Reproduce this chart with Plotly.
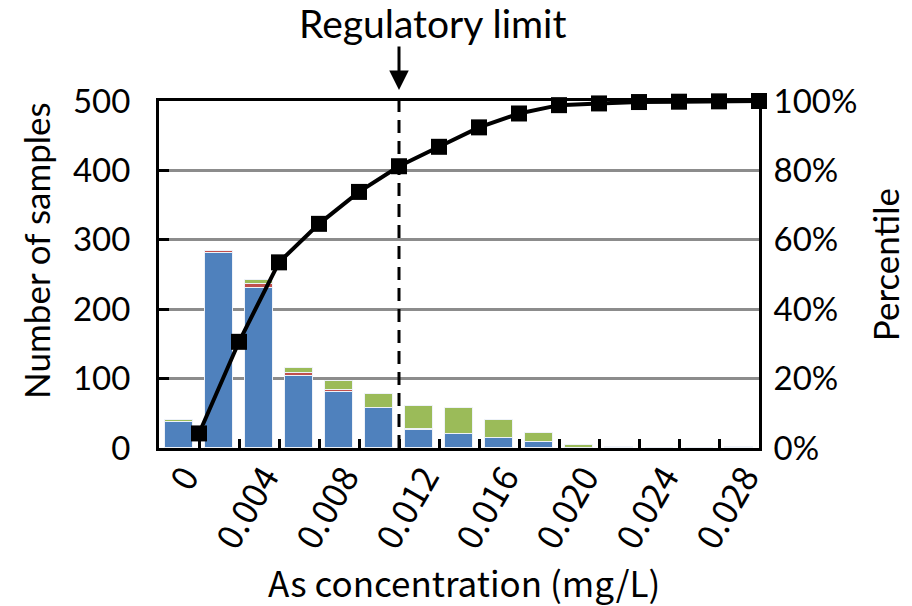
import plotly.graph_objects as go

# ---- data ----
conc_bins = [0.000, 0.002, 0.004, 0.006, 0.008, 0.010, 0.012, 0.014,
             0.016, 0.018, 0.020, 0.022, 0.024, 0.026, 0.028]
blue_counts = [38, 281, 230, 104, 80, 57, 26, 20, 15, 8, 0, 0, 0, 0, 1]
red_counts = [0, 3, 7, 4, 4, 0, 2, 0, 0, 0, 0, 0, 0, 0, 0]
green_counts = [2, 0, 5, 7, 12, 21, 32, 38, 26, 14, 5, 2, 0, 0, 0]

pct_x = [0.001, 0.003, 0.005, 0.007, 0.009, 0.011, 0.013, 0.015,
         0.017, 0.019, 0.021, 0.023, 0.025, 0.027, 0.029]
percentile = [4.2, 30.6, 53.5, 64.6, 73.8, 81.2, 86.8, 92.4,
              96.4, 98.8, 99.3, 99.7, 99.8, 99.9, 100]

x_tickvals = [0.000, 0.004, 0.008, 0.012, 0.016, 0.020, 0.024, 0.028]
x_ticktext = ["0", "0.004", "0.008", "0.012", "0.016", "0.020", "0.024", "0.028"]
regulatory_limit = 0.011

LAT = "Lato, 'Open Sans', sans-serif"
JP = "'Noto Sans CJK JP', sans-serif"

fig = go.Figure()
for vals, col in [(blue_counts, "#4F81BD"), (red_counts, "#C0504D"), (green_counts, "#9BBB59")]:
    fig.add_trace(go.Bar(x=conc_bins, y=vals, width=0.0014,
                         marker=dict(color=col, line=dict(color="#EEF2F8", width=1)),
                         xaxis="x", yaxis="y", showlegend=False))

fig.add_trace(go.Scatter(x=pct_x, y=percentile, mode="lines+markers",
                         line=dict(color="black", width=4),
                         marker=dict(symbol="square", size=16, color="black"),
                         xaxis="x2", yaxis="y2", showlegend=False, cliponaxis=False))

fig.update_layout(
    width=912, height=606,
    margin=dict(l=159, r=153, t=101, b=158, autoexpand=False),
    paper_bgcolor="white", plot_bgcolor="white",
    barmode="stack", bargap=0,
    xaxis=dict(range=[-0.001, 0.029], tickvals=x_tickvals, ticktext=x_ticktext,
               tickangle=-60, ticks="", showline=True, linecolor="black", linewidth=3,
               mirror=True, showgrid=False, zeroline=False, automargin=False,
               ticklabelstandoff=-8, ticklabelshift=6,
               tickfont=dict(family=JP, size=35, color="black")),
    xaxis2=dict(range=[-0.001, 0.029], overlaying="x", anchor="y2", side="bottom",
                tickvals=pct_x, ticks="inside", ticklen=9, tickwidth=3, tickcolor="black",
                showticklabels=False, showline=False, showgrid=False, zeroline=False,
                automargin=False),
    yaxis=dict(range=[0, 500], dtick=100, ticks="inside", ticklen=10, tickwidth=3,
               tickcolor="black", showline=True, linecolor="black", linewidth=3,
               showgrid=True, gridcolor="#8C8C8C", gridwidth=3, zeroline=False,
               automargin=False, ticklabelstandoff=19,
               tickfont=dict(family=LAT, size=33, color="black")),
    yaxis2=dict(range=[0, 100], dtick=20, ticksuffix="%", overlaying="y", side="right",
                showline=True, linecolor="black", linewidth=3, showgrid=False,
                zeroline=False, ticks="", automargin=False, ticklabelstandoff=5,
                tickfont=dict(family=LAT, size=33, color="black")),
    shapes=[dict(type="line", xref="x", yref="paper", x0=regulatory_limit, x1=regulatory_limit,
                 y0=0, y1=1, line=dict(color="black", width=3, dash="13px,8px"))],
    annotations=[
        dict(text="Regulatory limit", xref="paper", yref="paper", x=0.455, y=1.225,
             showarrow=False, font=dict(family=LAT, size=39, color="black"),
             xanchor="center", yanchor="middle"),
        dict(text="", xref="x", yref="paper", x=regulatory_limit, y=1,
             showarrow=True, ax=0, ay=-56, standoff=11, arrowhead=2, arrowsize=1.3,
             arrowwidth=3, arrowcolor="black"),
        dict(text="As concentration (mg/L)", xref="paper", yref="paper", x=0.508, y=-0.384,
             showarrow=False, xanchor="center", yanchor="middle",
             font=dict(family=JP, size=35, color="black")),
        dict(text="Number of samples", xref="paper", yref="paper", x=-0.205, y=0.568,
             textangle=-90, showarrow=False, xanchor="center", yanchor="middle",
             font=dict(family=LAT, size=35, color="black")),
        dict(text="Percentile", xref="paper", yref="paper", x=1.21, y=0.527,
             textangle=-90, showarrow=False, xanchor="center", yanchor="middle",
             font=dict(family=LAT, size=35, color="black")),
    ],
)

fig.write_html("out.html", config={"displayModeBar": False},
               post_script="document.body.style.margin='0px';")
